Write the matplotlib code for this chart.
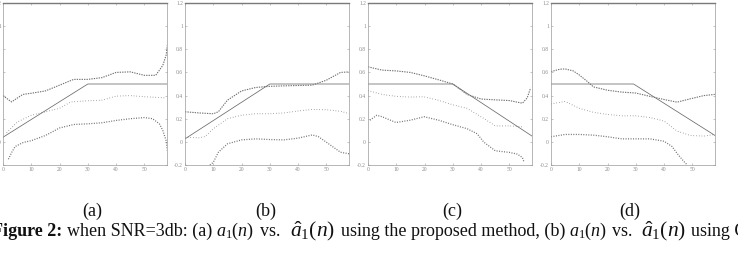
import numpy as np
import matplotlib
matplotlib.use('Agg')
import matplotlib.pyplot as plt

plt.rcParams['font.family'] = ['Liberation Serif', 'DejaVu Serif']
plt.rcParams['mathtext.fontset'] = 'custom'
plt.rcParams['mathtext.rm'] = 'Liberation Serif'
plt.rcParams['mathtext.it'] = 'Liberation Serif:italic'
plt.rcParams['mathtext.bf'] = 'Liberation Serif:bold'

#################################
# panel (a)
a_true_x = [0, 30, 58]
a_true_y = [0.04, 0.50, 0.50]
a_up_x = [0, 3, 7, 10, 15, 20, 25, 30, 35, 40, 45, 50, 54, 56.5, 57.7, 58.2]
a_up_y = [0.40, 0.345, 0.41, 0.42, 0.44, 0.49, 0.54, 0.54, 0.555, 0.60, 0.605, 0.575, 0.575, 0.66, 0.75, 0.85]
a_mid_x = [1.3, 5, 10, 15, 20, 24, 30, 35, 40, 45, 50, 57.7]
a_mid_y = [0.08, 0.17, 0.23, 0.26, 0.29, 0.345, 0.355, 0.36, 0.395, 0.40, 0.39, 0.38]
a_low_x = [1.9, 3.1, 4.3, 7.2, 10, 15, 20, 25, 30, 35, 40, 45, 50, 52.9, 55.3, 56.5, 57.7, 58.2]
a_low_y = [-0.15, -0.09, -0.04, -0.005, 0.01, 0.055, 0.12, 0.15, 0.156, 0.165, 0.185, 0.2, 0.21, 0.2, 0.156, 0.10, 0.01, -0.09]
#################################
# panel (b)
b_true_x = [0, 30, 58]
b_true_y = [0.026, 0.50, 0.50]
b_up_x = [0, 4.9, 10, 11.8, 15, 20, 25, 30, 35, 40, 45, 50, 55, 58.3]
b_up_y = [0.26, 0.25, 0.243, 0.26, 0.36, 0.44, 0.47, 0.48, 0.484, 0.487, 0.49, 0.533, 0.60, 0.605]
b_mid_x = [0, 4.9, 7.1, 10, 15, 20, 25, 30, 35, 40, 45, 50, 55, 58.3]
b_mid_y = [0.04, 0.035, 0.046, 0.113, 0.2, 0.23, 0.243, 0.243, 0.25, 0.267, 0.28, 0.278, 0.264, 0.243]
b_low_x = [8.8, 10, 11.8, 15, 20, 25, 30, 35, 40, 45, 47.1, 50, 55, 58.3]
b_low_y = [-0.2, -0.177, -0.09, -0.017, 0.017, 0.026, 0.02, 0.017, 0.032, 0.06, 0.046, -0.003, -0.09, -0.104]
#################################
# panel (c)
c_true_x = [0, 30, 58]
c_true_y = [0.50, 0.50, 0.05]
c_up_x = [0, 5, 10, 15, 20, 25, 30, 35, 40, 45, 50, 54.6, 56.3, 57.5]
c_up_y = [0.648, 0.62, 0.613, 0.60, 0.57, 0.536, 0.50, 0.41, 0.37, 0.363, 0.357, 0.334, 0.38, 0.466]
c_mid_x = [0, 5, 10, 15, 19.6, 24.4, 30, 35, 40, 45, 50, 54.6]
c_mid_y = [0.443, 0.41, 0.393, 0.387, 0.39, 0.363, 0.32, 0.29, 0.217, 0.138, 0.138, 0.13]
c_low_x = [0.7, 3.1, 5, 9.9, 14.9, 19.9, 25, 29.9, 35, 38.6, 41, 45, 50, 52.8, 54.6, 55.1]
c_low_y = [0.187, 0.23, 0.217, 0.167, 0.187, 0.217, 0.187, 0.149, 0.114, 0.07, -0.003, -0.077, -0.091, -0.106, -0.135, -0.17]
#################################
# panel (d)
d_true_x = [0, 29.2, 58]
d_true_y = [0.50, 0.50, 0.055]
d_up_x = [0, 3.2, 5, 7.9, 10, 12.7, 15, 20, 25, 30, 35, 40, 44.6, 49.3, 54.1, 57.9]
d_up_y = [0.607, 0.628, 0.63, 0.613, 0.578, 0.525, 0.475, 0.446, 0.43, 0.422, 0.393, 0.366, 0.343, 0.372, 0.40, 0.41]
d_mid_x = [0, 5, 10, 15, 20, 25, 30, 35, 40, 44.6, 49.3, 54.1, 57.9]
d_mid_y = [0.328, 0.349, 0.29, 0.255, 0.237, 0.225, 0.225, 0.21, 0.18, 0.093, 0.055, 0.05, 0.064]
d_low_x = [0, 5, 10, 15, 20, 25, 30, 35, 40, 42.8, 44.6, 47, 48.2]
d_low_y = [0.044, 0.064, 0.064, 0.058, 0.044, 0.026, 0.026, 0.026, 0.005, -0.04, -0.1, -0.17, -0.2]
#################################
x_ticks = [0, 10, 20, 30, 40, 50]
y_ticks = [-0.2, 0, 0.2, 0.4, 0.6, 0.8, 1, 1.2]
y_tick_labels = ['-0.2', '0', '0.2', '0.4', '0.6', '0.8', '1', '1.2']
panel_labels = ['(a)', '(b)', '(c)', '(d)']

# caption pieces: text, fontsize, weight
caption_parts = [
    ('Figure 2:', 13, 'bold'),
    ('when SNR=3db: (a)', 13, 'normal'),
    (r'$a_1(n)$', 13, 'normal'),
    ('vs.', 13, 'normal'),
    (r'$\hat{a}_1(n)$', 15.5, 'normal'),
    ('using the proposed method, (b)', 13, 'normal'),
    (r'$a_1(n)$', 13, 'normal'),
    ('vs.', 13, 'normal'),
    (r'$\hat{a}_1(n)$', 15.5, 'normal'),
    ('using G', 13, 'normal'),
]
# gap (px) before each caption piece
caption_gaps = [0, 5, 4, 6, 9, 6, 4, 5, 8, 5]

panels = [
    (a_true_x, a_true_y, a_up_x, a_up_y, a_mid_x, a_mid_y, a_low_x, a_low_y),
    (b_true_x, b_true_y, b_up_x, b_up_y, b_mid_x, b_mid_y, b_low_x, b_low_y),
    (c_true_x, c_true_y, c_up_x, c_up_y, c_mid_x, c_mid_y, c_low_x, c_low_y),
    (d_true_x, d_true_y, d_up_x, d_up_y, d_mid_x, d_mid_y, d_low_x, d_low_y),
]

W, H = 738, 254
fig = plt.figure(figsize=(W / 100, H / 100), dpi=100)

# axes boxes in pixels
lefts = [3, 185, 368, 551]
ax_w = 164
top_px, bot_px = 3, 165
label_centers = [92, 266, 452, 630]

line_col = '#707070'
frame_col = '#9a9a9a'

for ii, p in enumerate(panels):
    tx, ty, ux, uy, mx, my, lx, ly = p
    ax = fig.add_axes([lefts[ii] / W, (H - bot_px) / H, ax_w / W, (bot_px - top_px) / H])

    ax.plot(tx, ty, color='#6a6a6a', lw=0.55)
    ax.plot(ux, uy, color=line_col, lw=0.8, linestyle=(0, (1.2, 1.0)))
    ax.plot(mx, my, color=line_col, lw=0.7, linestyle=(0, (0.6, 2.2)))
    ax.plot(lx, ly, color=line_col, lw=0.9, linestyle=(0, (0.8, 1.2)))

    ax.set_xlim(0, 58)
    ax.set_ylim(-0.2, 1.2)
    ax.set_xticks(x_ticks)
    ax.set_yticks(y_ticks)
    ax.set_yticklabels(y_tick_labels)
    ax.tick_params(direction='in', length=1.5, width=0.4, colors=frame_col,
                   labelsize=4, labelcolor='#8a8a8a', pad=1.5,
                   top=True, right=True)
    for s in ax.spines.values():
        s.set_color(frame_col)
        s.set_linewidth(0.5)
    ax.spines['top'].set_color('#7a7a7a')
    ax.spines['top'].set_linewidth(1.0)

    fig.text(label_centers[ii] / W, (H - 211) / H, panel_labels[ii],
             ha='center', va='center', fontsize=13, color='#111111')

# caption line, laid out piece by piece
renderer = fig.canvas.get_renderer()
x_px = -8
cap_y = (H - 236) / H
for (txt, fs, fw), gap in zip(caption_parts, caption_gaps):
    x_px += gap
    t = fig.text(x_px / W, cap_y, txt, ha='left', va='baseline',
                 fontsize=fs, fontweight=fw, color='#111111')
    bb = t.get_window_extent(renderer=renderer)
    x_px = bb.x1

plt.savefig('out.png', dpi=100)
plt.close()
